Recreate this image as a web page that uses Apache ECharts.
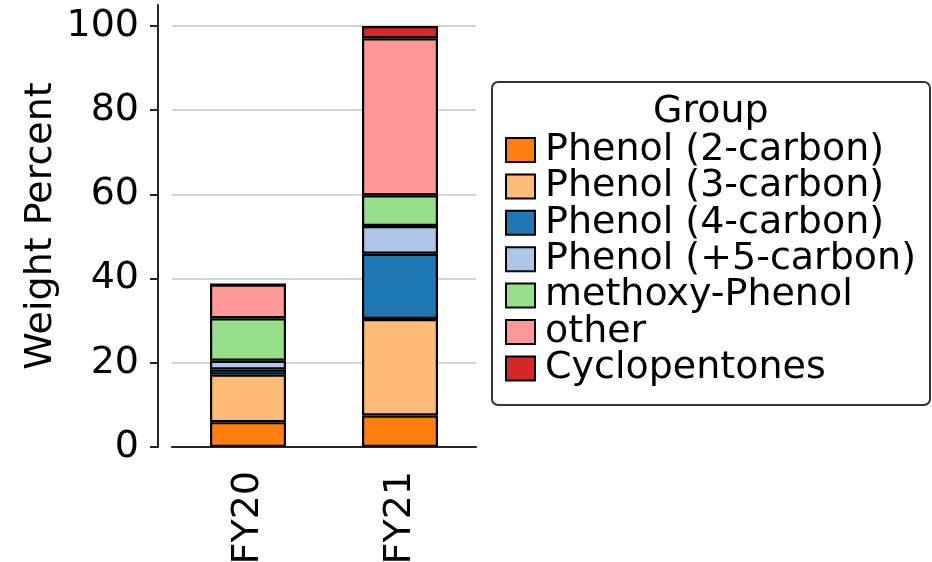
<!DOCTYPE html>
<html>
<head>
<meta charset="utf-8">
<script src="https://cdn.jsdelivr.net/npm/echarts@6/dist/echarts.min.js"></script>
<style>
  html, body { margin: 0; padding: 0; background: #fff; }
  #chart { width: 932px; height: 562px; }
</style>
</head>
<body>
<div id="chart"></div>
<script>
// categories
const years = ["FY20", "FY21"];
// stacked values (weight percent), bottom to top
const phenol2 = [5.9, 7.5];
const phenol3 = [11.3, 22.9];
const phenol4 = [1.2, 15.5];
const phenol5 = [2.1, 6.6];
const methoxy = [10.1, 7.3];
const other = [8.0, 37.3];
const cyclo = [0, 2.9];
const yTicks = [0, 20, 40, 60, 80, 100];

const groups = [
  { name: "Phenol (2-carbon)", data: phenol2, color: "#ff7f0e" },
  { name: "Phenol (3-carbon)", data: phenol3, color: "#ffbb78" },
  { name: "Phenol (4-carbon)", data: phenol4, color: "#1f77b4" },
  { name: "Phenol (+5-carbon)", data: phenol5, color: "#aec7e8" },
  { name: "methoxy-Phenol", data: methoxy, color: "#98df8a" },
  { name: "other", data: other, color: "#ff9896" },
  { name: "Cyclopentones", data: cyclo, color: "#d62728" }
];

const font = "DejaVu Sans";
let chart = echarts.init(document.getElementById("chart"));

let series = groups.map((g) => ({
  name: g.name,
  type: "bar",
  stack: "total",
  barWidth: "50%",
  data: g.data,
  itemStyle: { color: g.color, borderColor: "#000", borderWidth: 2.2 }
}));
// gridlines drawn as a mark line so the 105 edge has none
series[0].markLine = {
  silent: true,
  symbol: "none",
  label: { show: false },
  lineStyle: { color: "#c4c4c4", type: "solid", width: 1.5 },
  z: 0,
  data: yTicks.filter((v) => v > 0).map((v) => ({ yAxis: v }))
};

let option = {
  animation: false,
  backgroundColor: "#fff",
  textStyle: { fontFamily: font },
  grid: { left: 172, right: 456, top: 5, bottom: 115, outerBoundsMode: "none" },
  xAxis: {
    type: "category",
    data: years,
    axisLine: { lineStyle: { color: "#262626", width: 2 } },
    axisTick: { alignWithLabel: true, length: 8, lineStyle: { color: "#262626", width: 2 } },
    axisLabel: { rotate: 90, margin: 24, fontSize: 38, color: "#000", fontFamily: font }
  },
  yAxis: {
    type: "value",
    min: 0,
    max: 105,
    interval: 20,
    offset: 14,
    name: "Weight Percent",
    nameLocation: "middle",
    nameGap: 98,
    nameTextStyle: { fontSize: 38, color: "#000", fontFamily: font },
    axisLine: { show: true, lineStyle: { color: "#262626", width: 2 } },
    axisTick: { show: true, length: 8, customValues: yTicks, lineStyle: { color: "#262626", width: 2 } },
    axisLabel: { fontSize: 38, color: "#000", margin: 19, fontFamily: font, customValues: yTicks },
    splitLine: { show: false }
  },
  legend: {
    orient: "vertical",
    left: 505,
    top: 131,
    padding: 0,
    icon: "rect",
    itemWidth: 29,
    itemHeight: 24,
    itemGap: -1.6,
    selectedMode: false,
    textStyle: { fontSize: 38, color: "#000", fontFamily: font, padding: [0, 0, 0, 5] },
    data: groups.map((g) => g.name)
  },
  graphic: [
    {
      type: "rect",
      left: 491,
      top: 81,
      shape: { width: 438, height: 323, r: 6 },
      style: { fill: "#fff", stroke: "#333", lineWidth: 2 },
      z: -1
    },
    {
      type: "text",
      left: 653,
      top: 93,
      style: { text: "Group", font: "38px 'DejaVu Sans'", fill: "#000" }
    }
  ],
  series: series
};

chart.setOption(option);
</script>
</body>
</html>
